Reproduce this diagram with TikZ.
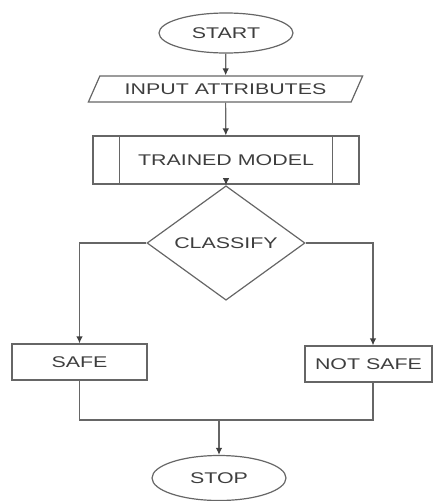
\documentclass[tikz,border=0pt]{standalone}
\usepackage{fontspec}
\setmainfont{Liberation Sans}[FakeStretch=1.38]
\usetikzlibrary{shapes.geometric, arrows.meta, calc}
\definecolor{linegray}{HTML}{666666}
\definecolor{textgray}{HTML}{3E3E3E}

\begin{document}
\begin{tikzpicture}[x=1pt, y=-1pt,
  every node/.style={inner sep=0pt, text=textgray, font=\fontsize{15.5}{18}\selectfont},
  line/.style={draw=linegray, line width=1.2pt},
  arr/.style={line, -{Latex[length=7pt, width=6.5pt, color=black!75]}},
  term/.style={line, shape=ellipse, minimum width=134, minimum height=40},
  io/.style={line, shape=trapezium, trapezium left angle=50, trapezium right angle=130,
    trapezium stretches=true, minimum width=275, minimum height=26},
  proc/.style={line, shape=rectangle, minimum height=36},
  subproc/.style={line, shape=rectangle, minimum width=266, minimum height=48},
  decide/.style={line, shape=diamond, minimum width=158, minimum height=76}]
\useasboundingbox (0,0) rectangle (433,501);

\node [term] (start) at (226,33) {START};
\node [io] (input) at (225.5,89) {INPUT ATTRIBUTES};
\node [subproc] (model) at (226,160) {TRAINED MODEL};
\draw [line] ($(model.north west)+(27,0)$) -- ($(model.south west)+(27,0)$);
\draw [line] ($(model.north east)+(-27,0)$) -- ($(model.south east)+(-27,0)$);
\node [decide] (classify) at (226,243) {CLASSIFY};
\node [proc, minimum width=135] (safe) at (79.5,362) {SAFE};
\node [proc, minimum width=127] (notsafe) at (368.5,364) {NOT SAFE};
\node [term, minimum height=45] (stop) at (219,478) {STOP};
\coordinate (join) at (219,420);

\draw [arr] (start) -- (input);
\draw [arr] (input) -- (model);
\draw [arr] (model) -- (classify);
\draw [arr] (classify.west) -| (safe.north);
\draw [arr] (classify.east) -| ([xshift=4.5]notsafe.north);
\draw [line] (safe.south) |- (join) -| ([xshift=4.5]notsafe.south);
\draw [arr] (join) -- (stop);
\end{tikzpicture}
\end{document}
